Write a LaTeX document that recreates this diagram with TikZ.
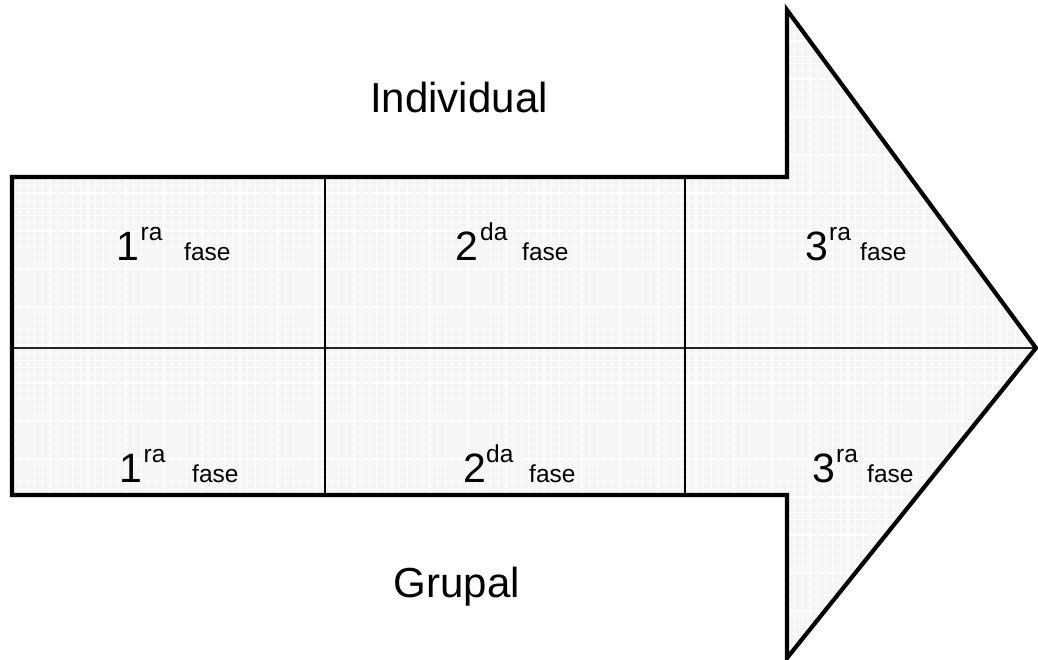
\documentclass[tikz,border=0pt]{standalone}
\usepackage{fontspec}
\setmainfont{Liberation Sans}
\begin{document}
\begin{tikzpicture}[x=1pt,y=-1pt,
  big/.style={font=\fontsize{42}{42}\selectfont, inner sep=0pt, anchor=base},
  dig/.style={font=\fontsize{41}{41}\selectfont, inner sep=0pt, anchor=base west},
  sup/.style={font=\fontsize{24.5}{24.5}\selectfont, inner sep=0pt, anchor=base west},
  outline/.style={draw=black, line width=4.2pt, line join=miter},
  divider/.style={draw=black!85, line width=1.8pt}]
\useasboundingbox (0,0) rectangle (1038,660);
% arrow corners
\coordinate (A) at (12,177);
\coordinate (B) at (787,177);
\coordinate (C) at (787,10);
\coordinate (T) at (1036,348);
\coordinate (D) at (787,658);
\coordinate (E) at (787,495);
\coordinate (F) at (12,495);
% fill with light grid texture
\fill[black!4] (A) -- (B) -- (C) -- (T) -- (D) -- (E) -- (F) -- cycle;
\begin{scope}
  \clip (A) -- (B) -- (C) -- (T) -- (D) -- (E) -- (F) -- cycle;
  \foreach \i in {0,...,136} {
    \draw[white, line width=1.2pt] (12+7.6*\i,0) -- (12+7.6*\i,660);
  }
  \foreach \j in {0,...,87} {
    \draw[white, line width=1.2pt] (0,3+7.6*\j) -- (1038,3+7.6*\j);
  }
\end{scope}
% dividers
\coordinate (V1t) at (325,177);
\coordinate (V1b) at (325,495);
\coordinate (V2t) at (685,177);
\coordinate (V2b) at (685,495);
\coordinate (Hl) at (12,348);
\coordinate (Hr) at (T);
\draw[divider] (Hl) -- (Hr);
\draw[divider, draw=black] (V1t) -- (V1b);
\draw[divider, draw=black] (V2t) -- (V2b);
% outline
\draw[outline] (A) -- (B) -- (C) -- (T) -- (D) -- (E) -- (F) -- cycle;
% labels
\node[big] (ind) at (459,113) {Individual};
\node[big] (grp) at (457,597) {Grupal};
\foreach \n/\d/\s/\xd/\xs/\xf/\y in {
  a/1/ra/116/140.5/184/261,
  b/2/da/455/480/522/261,
  c/3/ra/805/829/860/261,
  d/1/ra/119/143.5/192/482,
  e/2/da/463/486/529/482,
  f/3/ra/812/836/867/482} {
  \node[dig] (dig\n) at (\xd,\y) {\d};
  \node[sup] (sup\n) at (\xs,\y-20) {\s};
  \node[sup] (fase\n) at (\xf,\y) {fase};
}
\end{tikzpicture}
\end{document}
